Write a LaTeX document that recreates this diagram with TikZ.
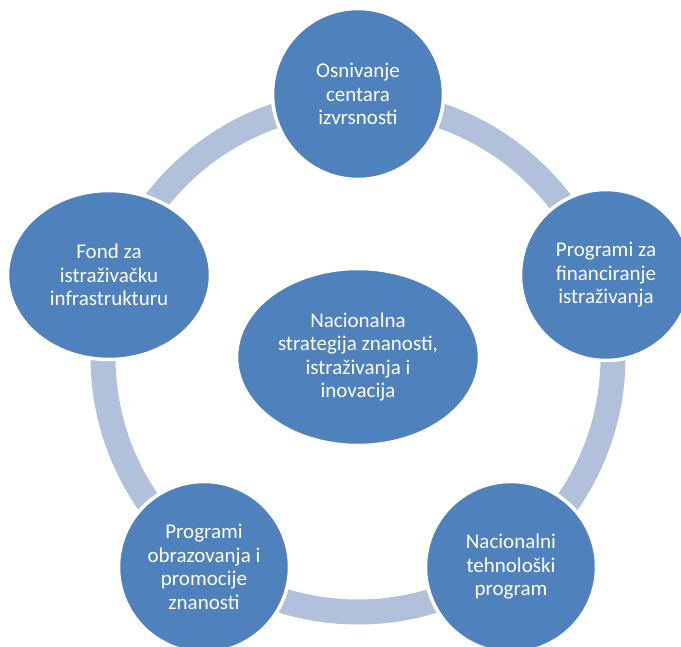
\documentclass[tikz,border=0pt]{standalone}
\usepackage{fontspec}
\setmainfont{Carlito}
\usetikzlibrary{shapes.geometric}

\definecolor{cycleblue}{RGB}{79,129,189}
\definecolor{ringblue}{RGB}{178,193,219}

\tikzset{
  krug/.style={circle, fill=cycleblue, draw=white, line width=3.5pt,
    minimum size=171pt, inner sep=0pt, align=center, text=white,
    font=\fontsize{21}{23.5}\selectfont},
  elipsa/.style={krug, ellipse},
  prsten/.style={draw=ringblue, line width=25pt}
}

\begin{document}
\begin{tikzpicture}[x=1pt,y=-1pt]
    \useasboundingbox (0,0) rectangle (681,647);

    % sredisnja strategija
    \node[elipsa, minimum width=243pt, minimum height=177pt] (strategija) at (358,357)
        {Nacionalna\\strategija znanosti,\\istraživanja i\\inovacija};

    % prsten iza krugova
    \draw[prsten] (strategija.center) circle (255pt);

    \node[krug] (osnivanje) at (358,94) {Osnivanje\\centara\\izvrsnosti};
    \node[krug] (financiranje) at (606,275) {Programi za\\financiranje\\istraživanja};
    \node[krug] (tehnoloski) at (511,567) {Nacionalni\\tehnološki\\program};
    \node[krug] (obrazovanje) at (204,567) {Programi\\obrazovanja i\\promocije\\znanosti};
    \node[elipsa, minimum width=203pt, minimum height=169pt] (fond) at (109,275)
        {Fond za\\istraživačku\\infrastrukturu};

\end{tikzpicture}
\end{document}
